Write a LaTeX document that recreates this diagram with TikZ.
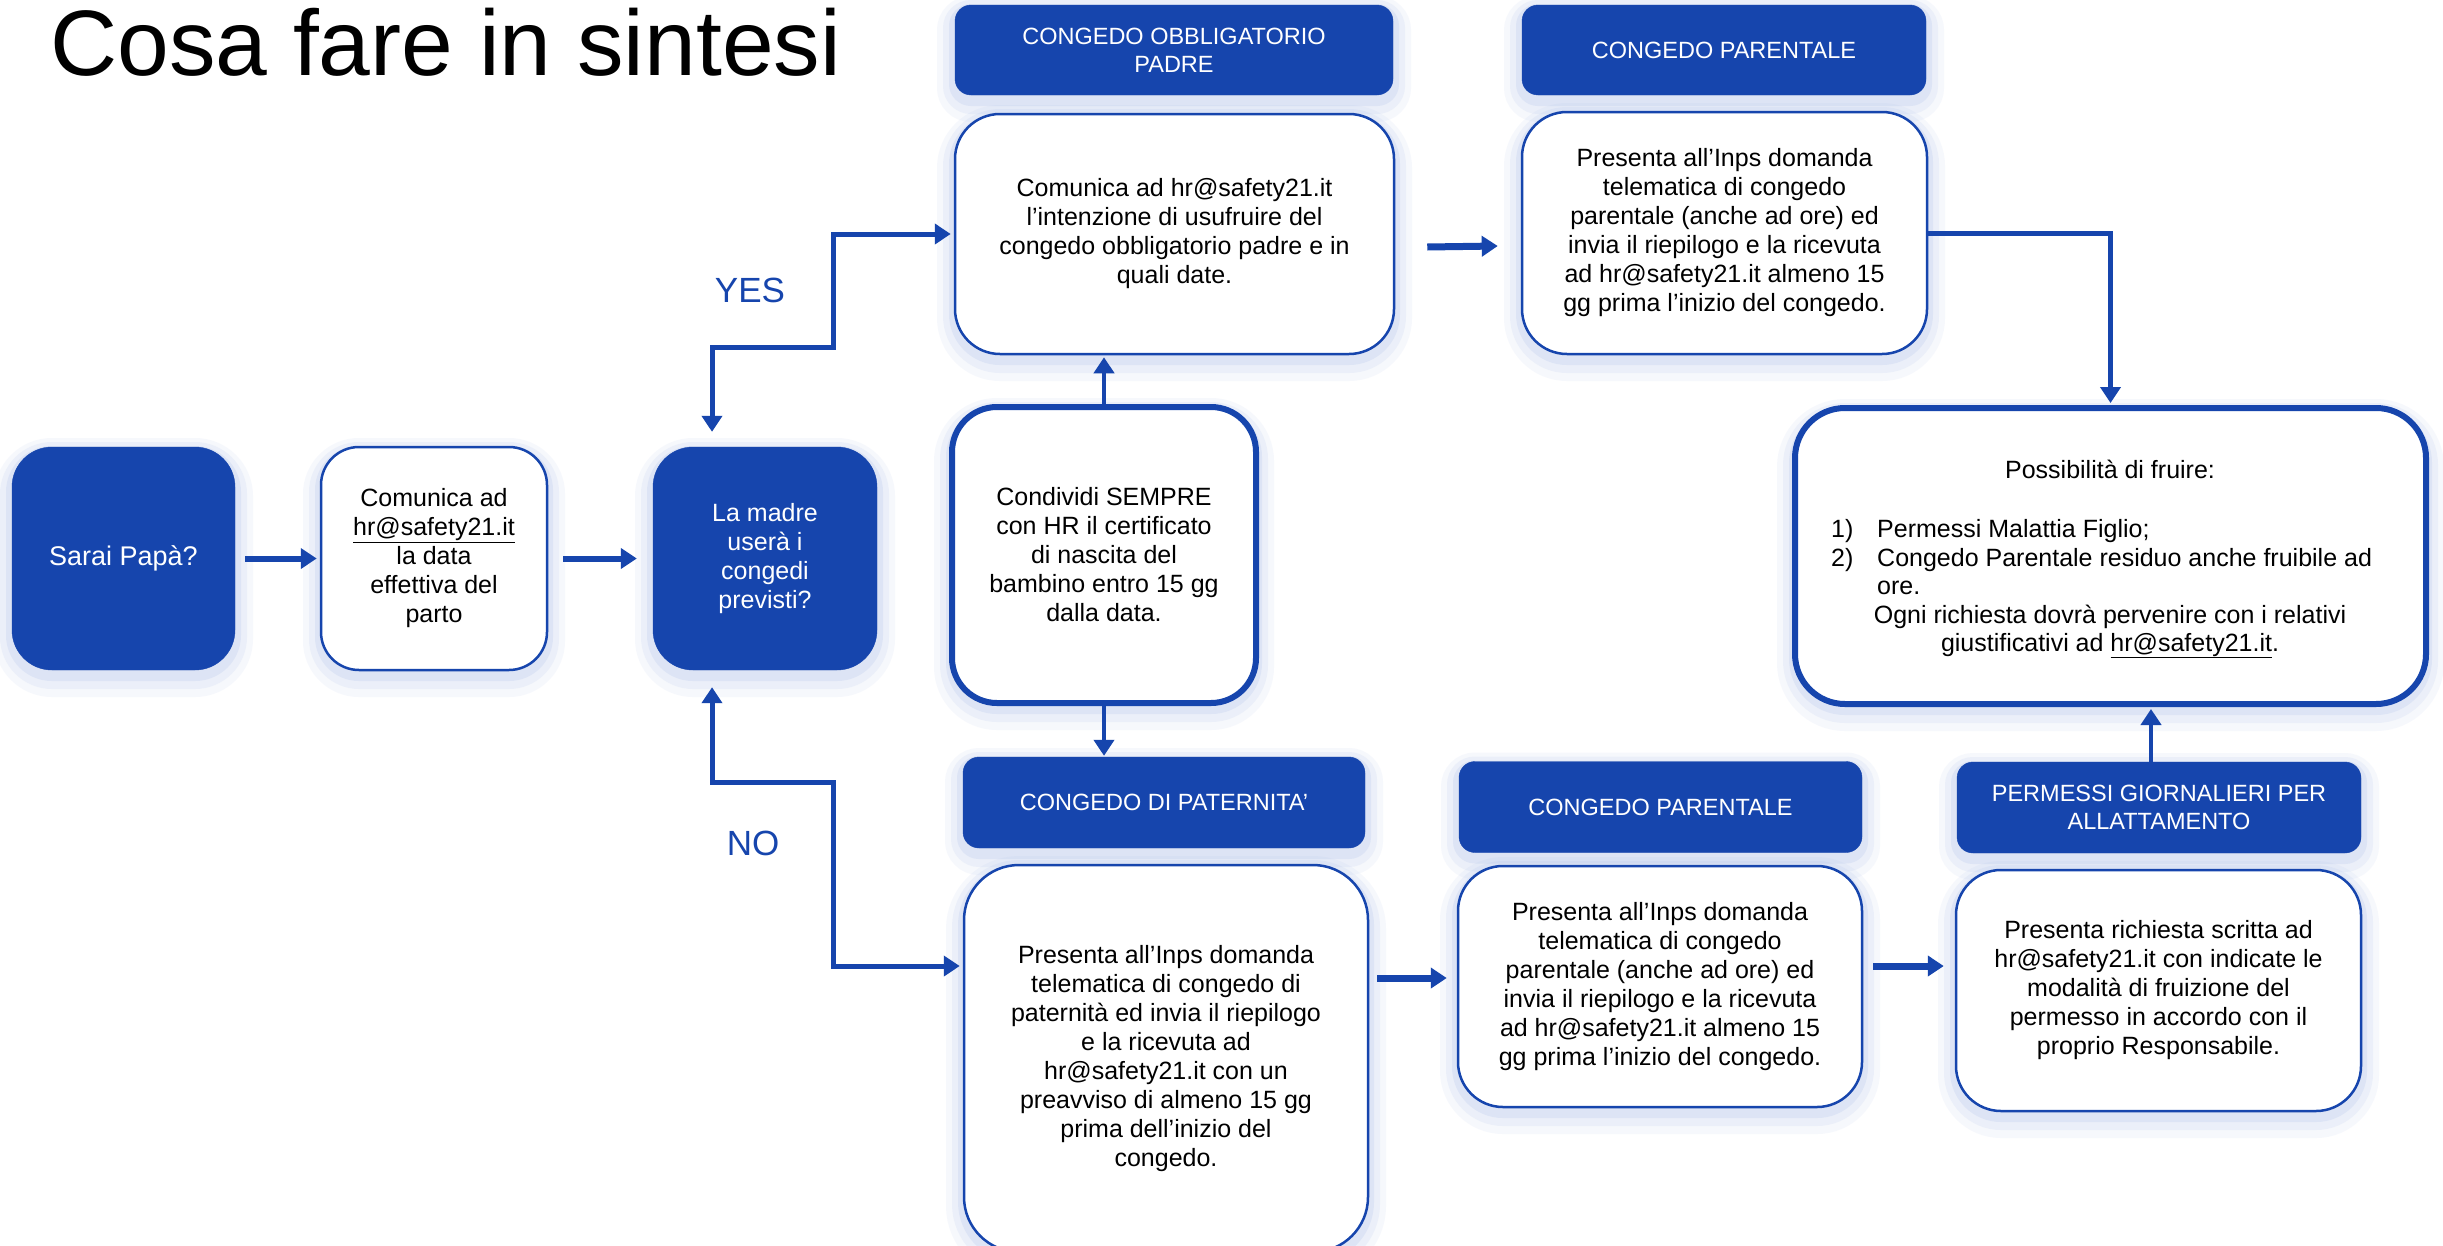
\documentclass[tikz,border=0pt]{standalone}
\usepackage{fontspec}
\setmainfont{Liberation Sans}
\usetikzlibrary{arrows.meta}
\definecolor{mainblue}{RGB}{22,69,173}
\definecolor{glowc}{RGB}{165,185,232}
\tikzset{
  glow/.style={
    preaction={draw=glowc, line width=36pt, opacity=0.09, transform canvas={yshift=-9pt}},
    preaction={draw=glowc, line width=24pt, opacity=0.13, transform canvas={yshift=-7pt}},
    preaction={draw=glowc, line width=12pt, opacity=0.20, transform canvas={yshift=-5pt}}},
  fbox/.style={glow, fill=mainblue, draw=mainblue, rounded corners=40pt, text=white,
    font=\fontsize{25}{29}\selectfont, align=center, inner sep=0pt},
  wbox/.style={glow, fill=white, draw=mainblue, line width=2.5pt, rounded corners=45pt, text=black,
    font=\fontsize{25}{29}\selectfont, align=center, inner sep=0pt},
  tbox/.style={wbox, line width=6pt},
  hbox/.style={glow, fill=mainblue, draw=mainblue, rounded corners=16pt, text=white,
    font=\fontsize{23.5}{28}\selectfont, align=center, inner sep=0pt},
  tipA/.tip={Triangle[length=16pt,width=20pt]},
  conn/.style={draw=mainblue, line width=5pt, -tipA},
  lbl/.style={text=mainblue, font=\fontsize{35}{40}\selectfont, inner sep=0pt},
  ptxt/.style={text=black, font=\fontsize{25}{29}\selectfont, inner sep=0pt},
}
\begin{document}
\begin{tikzpicture}[x=1pt,y=-1pt]
\fill[white] (0,0) rectangle (2443,1245);
\useasboundingbox (0,0) rectangle (2443,1245);
\clip (0,0) rectangle (2443,1245);

\node[anchor=base west, font=\fontsize{93}{100}\selectfont, inner sep=0pt] (title) at (50,75) {Cosa fare in sintesi};

\node[fbox, minimum width=223pt, minimum height=223pt, font=\fontsize{27}{32}\selectfont] (sarai) at (123.5,558.5) {Sarai Papà?};
\node[wbox, minimum width=226pt, minimum height=223pt, rounded corners=38pt] (com1) at (434,558.5) {Comunica ad\\\underline{hr@safety21.it}\\la data\\effettiva del\\parto};
\node[fbox, minimum width=224pt, minimum height=223pt] (madre) at (765,558.5) {La madre\\userà i\\congedi\\previsti?};
\node[tbox, minimum width=304pt, minimum height=296pt] (cond) at (1104,555) {Condividi SEMPRE\\con HR il certificato\\di nascita del\\bambino entro 15 gg\\dalla data.};

\node[hbox, minimum width=438pt, minimum height=90pt] (h1) at (1174,50) {CONGEDO OBBLIGATORIO\\PADRE};
\node[wbox, minimum width=439pt, minimum height=240pt] (b1) at (1174.5,234) {Comunica ad hr@safety21.it\\l’intenzione di usufruire del\\congedo obbligatorio padre e in\\quali date.};
\node[hbox, minimum width=404pt, minimum height=90pt] (h2) at (1724,50) {CONGEDO PARENTALE};
\node[wbox, minimum width=405pt, minimum height=242pt] (b2) at (1724.5,233) {Presenta all’Inps domanda\\telematica di congedo\\parentale (anche ad ore) ed\\invia il riepilogo e la ricevuta\\ad hr@safety21.it almeno 15\\gg prima l’inizio del congedo.};

\node[tbox, minimum width=631pt, minimum height=296pt, rounded corners=50pt] (poss) at (2110.5,556) {};
\node[ptxt, anchor=base] (p1) at (2110,478) {Possibilità di fruire:};
\node[ptxt, anchor=base west] (p2n) at (1831,537) {1)};
\node[ptxt, anchor=base west] (p2) at (1877,537) {Permessi Malattia Figlio;};
\node[ptxt, anchor=base west] (p3n) at (1831,566) {2)};
\node[ptxt, anchor=base west] (p3) at (1877,566) {Congedo Parentale residuo anche fruibile ad};
\node[ptxt, anchor=base west] (p4) at (1877,594) {ore.};
\node[ptxt, anchor=base] (p5) at (2110,623) {Ogni richiesta dovrà pervenire con i relativi};
\node[ptxt, anchor=base] (p6) at (2110,651) {giustificativi ad \underline{hr@safety21.it}.};

\node[hbox, minimum width=402pt, minimum height=91pt] (h3) at (1164,802.5) {CONGEDO DI PATERNITA’};
\node[wbox, minimum width=404pt, minimum height=387pt, rounded corners=55pt] (b3) at (1166,1058.5) {Presenta all’Inps domanda\\telematica di congedo di\\paternità ed invia il riepilogo\\e la ricevuta ad\\hr@safety21.it con un\\preavviso di almeno 15 gg\\prima dell’inizio del\\congedo.};
\node[hbox, minimum width=403pt, minimum height=91pt] (h4) at (1660.5,807) {CONGEDO PARENTALE};
\node[wbox, minimum width=404pt, minimum height=241pt] (b4) at (1660,986.5) {Presenta all’Inps domanda\\telematica di congedo\\parentale (anche ad ore) ed\\invia il riepilogo e la ricevuta\\ad hr@safety21.it almeno 15\\gg prima l’inizio del congedo.};
\node[hbox, minimum width=404pt, minimum height=91pt] (h5) at (2159,807.5) {PERMESSI GIORNALIERI PER\\ALLATTAMENTO};
\node[wbox, minimum width=405pt, minimum height=241pt] (b5) at (2158.5,990.5) {Presenta richiesta scritta ad\\hr@safety21.it con indicate le\\modalità di fruizione del\\permesso in accordo con il\\proprio Responsabile.};

\node[lbl] (yes) at (750,290) {YES};
\node[lbl] (no) at (753,843) {NO};

\coordinate (yes1) at (833,347);
\coordinate (no1) at (833,782);
\coordinate (no2) at (833,966);

\draw[conn, line width=6pt, shorten <=10pt, shorten >=3pt] (sarai) -- (com1);
\draw[conn, line width=6pt, shorten <=15pt, shorten >=16pt] (com1) -- (madre);
\draw[conn, tipA-tipA, shorten <=15pt, shorten >=3pt] ([xshift=-53pt]madre.north) |- (yes1) |- (b1.west);
\draw[conn, tipA-tipA, shorten <=17pt, shorten >=3pt] ([xshift=-53pt]madre.south) |- (no1) -- (no2) -- (no2 -| b3.west);
\draw[conn, line width=4pt, shorten >=2pt] (cond.north) -- (cond.north |- b1.south);
\draw[conn, line width=4pt, shorten >=1pt] (cond.south) -- (cond.south |- h3.north);
\draw[conn, line width=7pt] ([xshift=32pt,yshift=-13pt]b1.east) -- ([xshift=-23pt,yshift=-13pt]b2.west);
\draw[conn, shorten >=2pt] (b2.east) -| (poss.north);
\draw[conn, line width=7pt] ([xshift=8pt,yshift=80.5pt]b3.east) -- ([xshift=-10pt,yshift=8.5pt]b4.west);
\draw[conn, line width=7pt] ([xshift=10pt,yshift=20.5pt]b4.east) -- ([xshift=-11pt,yshift=24.5pt]b5.west);
\draw[conn, line width=4pt, shorten >=2pt] ([xshift=-8pt]h5.north) -- ([xshift=-8pt]h5.north |- poss.south);
\end{tikzpicture}
\end{document}
